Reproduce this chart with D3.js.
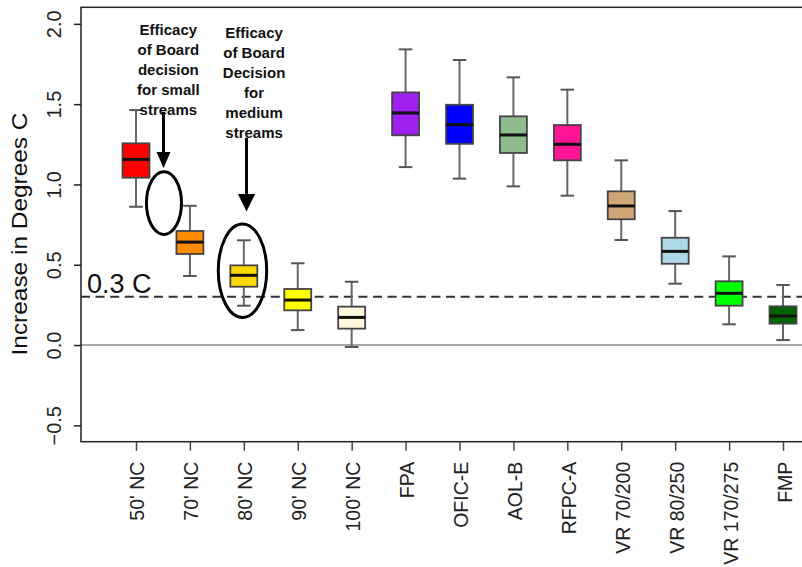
<!DOCTYPE html>
<html>
<head>
<meta charset="utf-8">
<script src="https://cdn.jsdelivr.net/npm/d3@7"></script>
<style>
  body { margin: 0; background: #fff; }
  svg { display: block; font-family: "Liberation Sans", Arial, sans-serif; }
</style>
</head>
<body>
<svg id="chart" width="802" height="567"></svg>
<script>
// categories and box statistics
const categories = ["50' NC", "70' NC", "80' NC", "90' NC", "100' NC", 'FPA', 'OFIC-E', 'AOL-B',
  'RFPC-A', 'VR 70/200', 'VR 80/250', 'VR 170/275', 'FMP']
const whiskerLow = [0.861, 0.430, 0.245, 0.093, -0.012, 1.108, 1.036, 0.988, 0.930, 0.654, 0.382, 0.129, 0.031]
const boxLow = [1.042, 0.567, 0.363, 0.216, 0.102, 1.306, 1.253, 1.196, 1.150, 0.783, 0.506, 0.245, 0.133]
const medians = [1.156, 0.641, 0.434, 0.280, 0.172, 1.445, 1.372, 1.308, 1.250, 0.866, 0.583, 0.322, 0.181]
const boxHigh = [1.256, 0.710, 0.496, 0.349, 0.239, 1.573, 1.496, 1.424, 1.370, 0.957, 0.668, 0.397, 0.241]
const whiskerHigh = [1.463, 0.867, 0.652, 0.509, 0.394, 1.841, 1.775, 1.667, 1.590, 1.150, 0.834, 0.552, 0.374]
const fills = ['#ff0000', '#ff8c00', '#ffd700', '#ffff00', '#fff8dc', '#a020f0', '#0000ff', '#8fbc8f',
  '#ff1493', '#cfa676', '#add8e6', '#00ff00', '#006400']
const yTicks = [-0.5, 0.0, 0.5, 1.0, 1.5, 2.0]
const threshold = 0.3

// annotations, in data units (x = box position, y = degrees)
const notes = [
  { x: 1.6, y: 1.93, lines: ['Efficacy', 'of Board', 'decision', 'for small', 'streams'] },
  { x: 3.19, y: 1.914, lines: ['Efficacy', 'of Board', 'Decision', 'for', 'medium', 'streams'] }
]
const arrows = [
  { x: 1.51, y0: 1.451, y1: 1.102, head: 0.1, w: 0.13 },
  { x: 3.05, y0: 1.289, y1: 0.831, head: 0.11, w: 0.16 }
]
const ellipses = [
  { x: 1.519, y: 0.884, rx: 0.325, ry: 0.195 },
  { x: 2.975, y: 0.463, rx: 0.449, ry: 0.291 }
]

function drawChart() {
  const svg = d3.select('#chart')
  const left = 81, right = 838, plotTop = 7.3, plotBottom = 441.7

  const x = d3.scaleLinear().domain([-0.02, categories.length + 1.02]).range([left, right])
  const y = d3.scaleLinear().domain([-0.602, 2.103]).range([plotBottom, plotTop])

  const data = categories.map((c, i) => ({
    name: c, pos: i + 1, lo: whiskerLow[i], q1: boxLow[i], med: medians[i], q3: boxHigh[i], hi: whiskerHigh[i], fill: fills[i]
  }))

  // reference lines
  svg.append('line')
    .attr('x1', left).attr('x2', right)
    .attr('y1', y(0)).attr('y2', y(0))
    .attr('stroke', '#8a8a8a').attr('stroke-width', 1.5)

  svg.append('line')
    .attr('x1', left).attr('x2', right)
    .attr('y1', y(threshold)).attr('y2', y(threshold))
    .attr('stroke', '#333').attr('stroke-width', 2)
    .attr('stroke-dasharray', '9,5.6')

  svg.append('text')
    .attr('x', left + 6).attr('y', y(threshold) - 3.5)
    .attr('font-size', 27)
    .attr('fill', '#111')
    .text('0.3 C')

  // boxes
  const bw = 0.25, sw = 0.125
  const g = svg.selectAll('g.box')
    .data(data)
    .join('g')
    .attr('class', 'box')

  g.append('line')
    .attr('x1', d => x(d.pos)).attr('x2', d => x(d.pos))
    .attr('y1', d => y(d.hi)).attr('y2', d => y(d.q3))
    .attr('stroke', '#666').attr('stroke-width', 2)
  g.append('line')
    .attr('x1', d => x(d.pos)).attr('x2', d => x(d.pos))
    .attr('y1', d => y(d.q1)).attr('y2', d => y(d.lo))
    .attr('stroke', '#666').attr('stroke-width', 2)
  g.append('line')
    .attr('x1', d => x(d.pos - sw)).attr('x2', d => x(d.pos + sw))
    .attr('y1', d => y(d.hi)).attr('y2', d => y(d.hi))
    .attr('stroke', '#555').attr('stroke-width', 2)
  g.append('line')
    .attr('x1', d => x(d.pos - sw)).attr('x2', d => x(d.pos + sw))
    .attr('y1', d => y(d.lo)).attr('y2', d => y(d.lo))
    .attr('stroke', '#555').attr('stroke-width', 2)
  g.append('rect')
    .attr('x', d => x(d.pos - bw))
    .attr('width', d => x(d.pos + bw) - x(d.pos - bw))
    .attr('y', d => y(d.q3))
    .attr('height', d => y(d.q1) - y(d.q3))
    .attr('fill', d => d.fill)
    .attr('stroke', '#444').attr('stroke-width', 1.8)
  g.append('line')
    .attr('x1', d => x(d.pos - bw)).attr('x2', d => x(d.pos + bw))
    .attr('y1', d => y(d.med)).attr('y2', d => y(d.med))
    .attr('stroke', '#111').attr('stroke-width', 3)

  // annotations
  const ann = svg.append('g').attr('fill', 'none').attr('stroke', '#000').attr('stroke-width', 3)
  ann.selectAll('ellipse')
    .data(ellipses)
    .join('ellipse')
    .attr('cx', d => x(d.x)).attr('cy', d => y(d.y))
    .attr('rx', d => x(d.rx) - x(0)).attr('ry', d => y(0) - y(d.ry))

  arrows.forEach(a => {
    ann.append('line')
      .attr('x1', x(a.x)).attr('x2', x(a.x))
      .attr('y1', y(a.y0)).attr('y2', y(a.y1 + a.head))
    svg.append('path')
      .attr('d', d3.line()([
        [x(a.x - a.w), y(a.y1 + a.head)],
        [x(a.x + a.w), y(a.y1 + a.head)],
        [x(a.x), y(a.y1)]
      ]) + 'Z')
      .attr('fill', '#000')
  })

  notes.forEach(n => {
    const t = svg.append('text')
      .attr('text-anchor', 'middle')
      .attr('font-size', 15)
      .attr('font-weight', 'bold')
      .attr('fill', '#111')
    t.selectAll('tspan')
      .data(n.lines)
      .join('tspan')
      .attr('x', x(n.x))
      .attr('y', (d, i) => y(n.y) + i * 20)
      .text(d => d)
  })

  // frame
  svg.append('rect')
    .attr('x', left).attr('y', plotTop)
    .attr('width', right - left).attr('height', plotBottom - plotTop)
    .attr('fill', 'none').attr('stroke', '#222').attr('stroke-width', 1.5)

  // y axis
  const yAxis = svg.append('g')
    .attr('transform', `translate(${left},0)`)
    .call(d3.axisLeft(y).tickValues(yTicks).tickFormat(d3.format('.1f')).tickSize(7).tickPadding(0))
  yAxis.select('.domain').remove()
  yAxis.selectAll('line').attr('stroke', '#222').attr('stroke-width', 1.5)
  yAxis.selectAll('text')
    .attr('font-size', 20)
    .attr('fill', '#222')
    .attr('font-family', '"Liberation Sans", Arial, sans-serif')
    .attr('text-anchor', 'middle')
    .attr('dy', 0)
    .attr('x', 0).attr('y', 0)
    .attr('transform', 'translate(-20,0) rotate(-90)')

  // x axis
  const xAxis = svg.append('g')
    .attr('transform', `translate(0,${plotBottom})`)
    .call(d3.axisBottom(x).tickValues(data.map(d => d.pos)).tickFormat((d, i) => categories[i]).tickSize(9))
  xAxis.select('.domain').remove()
  xAxis.selectAll('line').attr('stroke', '#444').attr('stroke-width', 1.5)
  xAxis.selectAll('text')
    .attr('font-size', 19.5)
    .attr('fill', '#222')
    .attr('font-family', '"Liberation Sans", Arial, sans-serif')
    .attr('text-anchor', 'end')
    .attr('x', 0).attr('y', 0).attr('dy', 0)
    .attr('transform', 'translate(8,20) rotate(-90)')

  // y label
  svg.append('text')
    .attr('transform', 'translate(27,234) rotate(-90)')
    .attr('text-anchor', 'middle')
    .attr('font-size', 22)
    .attr('textLength', 243)
    .attr('lengthAdjust', 'spacingAndGlyphs')
    .attr('fill', '#111')
    .text('Increase in Degrees C')
}

drawChart()
</script>
</body>
</html>
